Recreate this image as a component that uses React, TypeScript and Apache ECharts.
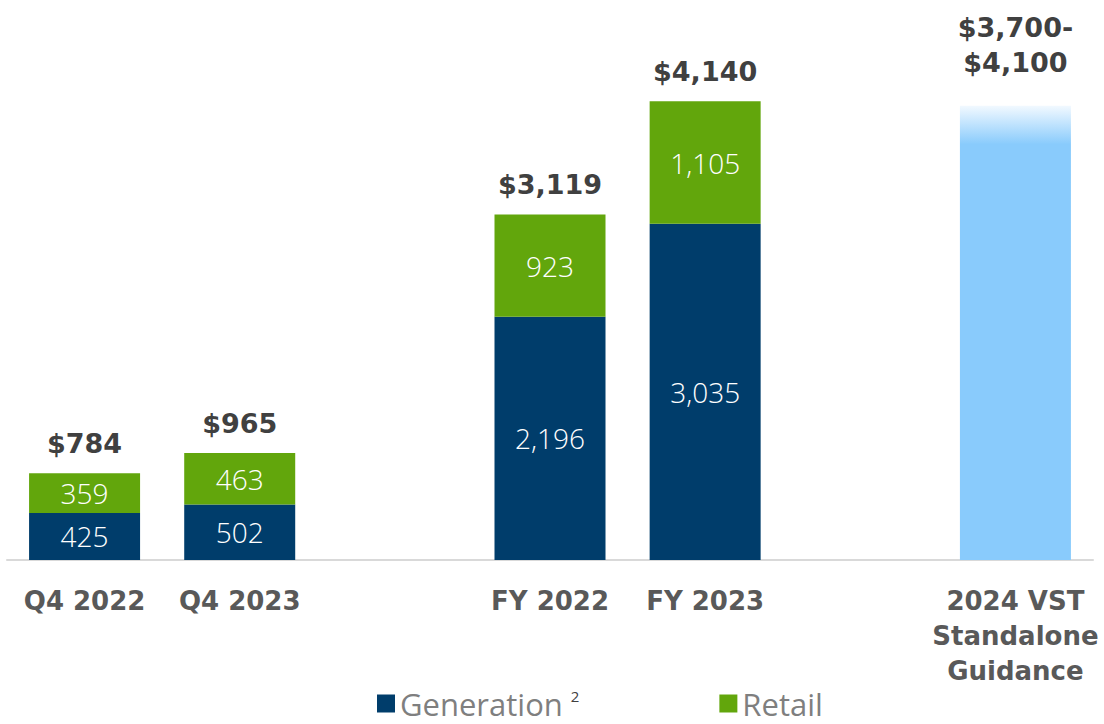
import React, { useEffect, useRef } from "react";
import * as echarts from "echarts";

const categories = ["Q4 2022", "Q4 2023", " ", "FY 2022", "FY 2023", "  ", "2024 VST\nStandalone\nGuidance"];
const generation = [425, 502, null, 2196, 3035, null, null];
const retail = [359, 463, null, 923, 1105, null, null];
const totals = ["$784", "$965", "", "$3,119", "$4,140", "", ""];
const guidance = [null, null, null, null, null, null, 4100];
const guidanceLabel = "$3,700-\n$4,100";

const BOLD = "DejaVu Sans";
const LIGHT = "Open Sans";

export default function App() {
  const ref = useRef<HTMLDivElement>(null);
  useEffect(() => {
    const chart = echarts.init(ref.current!, null, { renderer: "svg" });
    const inner = {
      show: true,
      position: "inside",
      color: "#ffffff",
      fontFamily: LIGHT,
      fontWeight: 300,
      fontSize: 28,
      formatter: (p: any) => (p.value == null ? "" : Number(p.value).toLocaleString("en-US")),
    };
    chart.setOption({
      animation: false,
      backgroundColor: "#ffffff",
      grid: { left: 7, right: 11, top: 6, bottom: 164 },
      xAxis: {
        type: "category",
        data: categories,
        axisLine: { show: true, lineStyle: { color: "#d9d9d9", width: 2 } },
        axisTick: { show: false },
        axisLabel: {
          interval: 0,
          margin: 23,
          color: "#595959",
          fontFamily: BOLD,
          fontWeight: "bold",
          fontSize: 26,
          lineHeight: 35,
        },
      },
      yAxis: { type: "value", min: 0, max: 5000, show: false, splitLine: { show: false } },
      legend: {
        data: ["Generation", "Retail"],
        left: 377,
        top: 688,
        padding: 0,
        itemWidth: 18,
        itemHeight: 18,
        itemGap: 140,
        icon: "rect",
        formatter: (name: string) => (name === "Generation" ? "{a|Generation}{s|2}" : "{a|Retail}"),
        textStyle: {
          rich: {
            a: { fontFamily: LIGHT, fontSize: 31, color: "#7f7f7f", lineHeight: 31 },
            s: { fontFamily: LIGHT, fontSize: 15, color: "#404040", verticalAlign: "top", padding: [0, 0, 14, 8] },
          },
        },
      },
      series: [
        {
          name: "Generation",
          type: "bar",
          stack: "t",
          barWidth: 111,
          data: generation,
          itemStyle: { color: "#003D6B" },
          label: inner,
        },
        {
          name: "Retail",
          type: "bar",
          stack: "t",
          barWidth: 111,
          data: retail,
          itemStyle: { color: "#62A60C" },
          label: inner,
        },
        {
          name: "RetailTotals",
          type: "bar",
          stack: "t",
          barWidth: 111,
          data: retail.map((v) => (v == null ? null : 0)),
          itemStyle: { color: "transparent" },
          label: {
            show: true,
            position: "top",
            distance: 16,
            color: "#404040",
            fontFamily: BOLD,
            fontWeight: "bold",
            fontSize: 27,
            formatter: (p: any) => totals[p.dataIndex],
          },
        },
        {
          name: "Guidance",
          type: "bar",
          stack: "t",
          barWidth: 111,
          data: guidance,
          itemStyle: {
            color: new echarts.graphic.LinearGradient(0, 0, 0, 1, [
              { offset: 0, color: "#f2f9ff" },
              { offset: 0.085, color: "#89CBFC" },
              { offset: 1, color: "#89CBFC" },
            ]),
          },
          label: {
            show: true,
            position: "top",
            distance: 26,
            color: "#404040",
            fontFamily: BOLD,
            fontWeight: "bold",
            fontSize: 27,
            lineHeight: 35,
            formatter: () => guidanceLabel,
          },
        },
      ],
    });
    return () => chart.dispose();
  }, []);
  return <div ref={ref} style={{ position: "fixed", left: 0, top: 0, width: 1104, height: 724 }} />;
}
